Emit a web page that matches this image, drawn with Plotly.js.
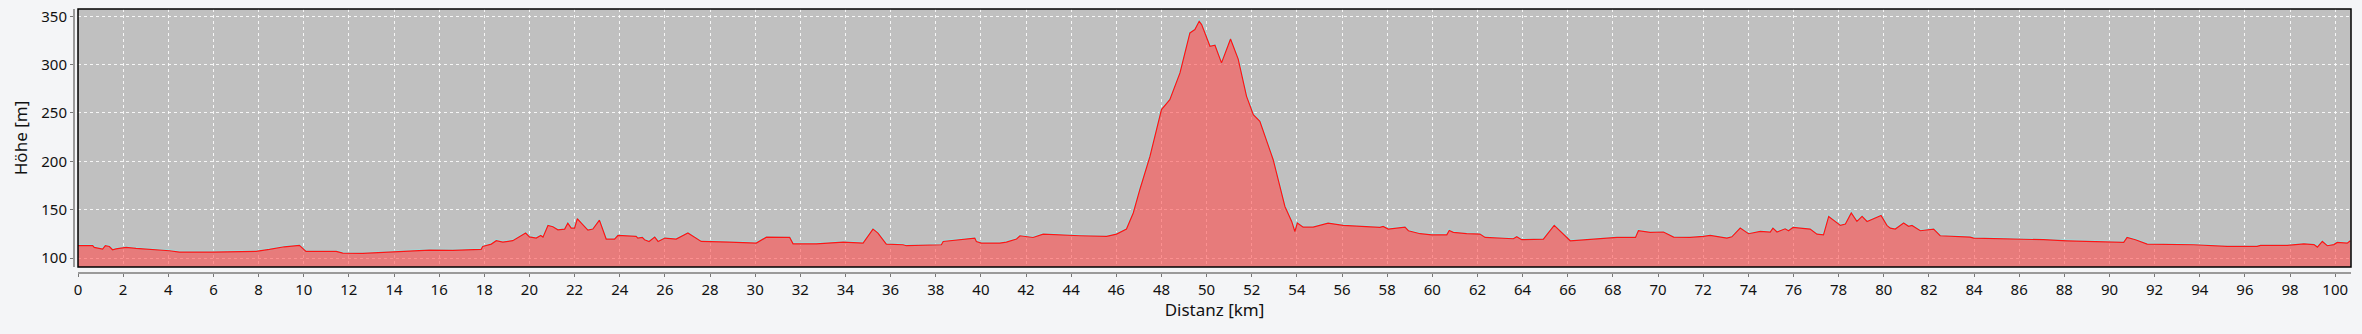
<!DOCTYPE html>
<html>
<head>
<meta charset="utf-8">
<script src="https://cdn.plot.ly/plotly-3.0.1.min.js"></script>
<style>
  html, body { margin: 0; padding: 0; background: #f4f5f7; }
  #chart { width: 2362px; height: 334px; }
</style>
</head>
<body>
<div id="chart"></div>
<script>
// Distance along the route (km)
const distKm = [
  0.0, 0.65, 0.72, 1.09, 1.21, 1.39, 1.53, 1.68, 2.13, 2.57,
  4.05, 4.49, 5.97, 7.0, 7.89, 8.48, 9.14, 9.81, 9.96, 10.1,
  11.44, 11.73, 12.62, 13.65, 15.57, 16.6, 17.86, 17.93, 18.31, 18.53,
  18.82, 19.26, 19.49, 19.83, 20.0, 20.3, 20.5, 20.6, 20.82, 21.04,
  21.26, 21.56, 21.7, 21.85, 22.0, 22.12, 22.3, 22.59, 22.81, 23.1,
  23.4, 23.77, 23.92, 24.44, 24.73, 24.8, 25.0, 25.1, 25.3, 25.55,
  25.7, 26.0, 26.5, 27.02, 27.24, 27.61, 28.87, 30.05, 30.5, 31.53,
  31.68, 32.71, 33.9, 34.78, 35.22, 35.44, 35.81, 36.55, 36.7, 37.59,
  38.25, 38.33, 39.21, 39.36, 39.73, 39.8, 40.02, 40.84, 41.13, 41.58,
  41.73, 42.31, 42.76, 44.38, 45.57, 46.01, 46.45, 46.75, 47.04, 47.49,
  48.0, 48.37, 48.82, 49.26, 49.48, 49.67, 49.78, 50.15, 50.37, 50.66,
  51.06, 51.4, 51.77, 52.07, 52.36, 52.95, 53.47, 53.77, 53.91, 54.02,
  54.28, 54.72, 55.01, 55.38, 56.05, 57.68, 57.82, 58.05, 58.79, 58.94,
  59.46, 59.97, 60.64, 60.75, 60.93, 61.52, 62.11, 62.34, 63.59, 63.74,
  63.96, 64.92, 65.4, 65.89, 66.11, 66.85, 68.18, 69.0, 69.13, 69.65,
  70.24, 70.69, 71.42, 72.01, 72.31, 73.05, 73.27, 73.64, 74.01, 74.53,
  74.97, 75.09, 75.27, 75.63, 75.78, 75.98, 76.74, 77.04, 77.33, 77.56,
  78.08, 78.3, 78.56, 78.81, 79.04, 79.26, 79.63, 79.88, 80.14, 80.29,
  80.51, 80.88, 81.1, 81.25, 81.62, 82.21, 82.5, 83.83, 83.98, 85.61,
  87.08, 88.12, 90.63, 90.78, 91.15, 91.67, 92.11, 92.4, 93.14, 93.73,
  95.21, 96.54, 96.69, 97.87, 98.61, 99.06, 99.21, 99.43, 99.65, 99.94,
  100.09, 100.53, 100.67
];

// Elevation (m)
const elevM = [
  113, 113, 111, 109.3, 112.8, 112, 108.6, 109.5, 111, 110,
  107.6, 106.2, 106.2, 106.9, 106.9, 109, 111.7, 113.1, 110.3, 106.9,
  106.9, 105.2, 104.8, 106.2, 108.3, 108, 109, 112, 114.5, 118,
  116.6, 118, 121.4, 125.9, 122, 120.7, 123.4, 121.7, 133.8, 132.4,
  129.3, 130, 136.2, 131, 131, 140.7, 136.2, 129, 130, 139.3,
  119.7, 119.7, 123.4, 123.1, 122.4, 120.7, 121.4, 119, 117.2, 121.7,
  117.2, 120.7, 119.7, 125.9, 122.4, 117.2, 116.6, 115.5, 121.7, 121.4,
  114.8, 114.8, 116.6, 115.5, 130, 125.9, 114.5, 113.8, 112.8, 113.8,
  113.8, 117.2, 119, 120, 120.7, 117.2, 115.5, 115.5, 116.6, 119.7,
  123.1, 121.3, 124.8, 123.1, 122.4, 124.8, 130, 146.6, 170.7, 205.1,
  253.5, 263.8, 291.4, 332.8, 336.2, 344.8, 341.4, 319, 320, 301.8,
  326.5, 305.7, 267.2, 248.3, 241.4, 201.7, 153.4, 137.9, 127.5, 136.2,
  132, 132, 133.8, 136.2, 133.8, 131.7, 132.8, 130, 132, 128.3,
  125.2, 124.1, 124.1, 128.6, 126.6, 125.2, 124.8, 121.4, 120, 122.1,
  119, 119.7, 133.8, 122.4, 117.9, 119, 121.4, 121.4, 128.3, 126.6,
  127, 121.7, 121.4, 122.4, 123.4, 120.7, 122, 131, 125.2, 127.6,
  126.9, 131, 127, 130.3, 128.3, 131.7, 130, 124.8, 124.1, 143.1,
  133.8, 135.2, 146.6, 137.9, 143.1, 137.9, 141.4, 144.1, 133.8, 131,
  130, 136.2, 132.8, 133.8, 128.3, 130, 123.1, 121.7, 120.7, 120,
  119, 117.9, 116.2, 121.4, 119, 114.5, 114.5, 113.8, 113.8, 113.8,
  112.1, 112.1, 113.1, 113.1, 114.8, 114, 111.4, 117.2, 112.8, 114,
  116.2, 115.5, 117.9
];

const yTickVals = [100, 150, 200, 250, 300, 350];
const xTitle = 'Distanz [km]';
const yTitle = 'Höhe [m]';

const FONT = 'Noto Sans, Open Sans, DejaVu Sans, sans-serif';

const traces = [
  {
    x: distKm, y: elevM, type: 'scatter', mode: 'lines',
    line: { color: 'rgb(160,215,215)', width: 3 },
    hoverinfo: 'skip', showlegend: false
  },
  {
    x: distKm, y: elevM, type: 'scatter', mode: 'lines',
    fill: 'tozeroy', fillcolor: 'rgba(255,80,80,0.62)',
    line: { color: 'rgb(255,20,20)', width: 1.2 },
    showlegend: false
  }
];

const layout = {
  width: 2362, height: 334,
  paper_bgcolor: '#f4f5f7',
  plot_bgcolor: '#c0c0c0',
  margin: { l: 73, r: 11, t: 9, b: 62 },
  font: { family: FONT, size: 15, color: '#1a1a1a' },
  showlegend: false,
  xaxis: {
    range: [0, 100.7],
    domain: [0.0022, 1],
    anchor: 'free', position: 0,
    tick0: 0, dtick: 2,
    showgrid: true, gridcolor: 'rgba(255,255,255,0.85)', gridwidth: 1, griddash: '3px,3px',
    zeroline: false,
    showline: true, linecolor: '#9a9a9a', linewidth: 1.5,
    ticks: 'outside', ticklen: 3, tickcolor: '#777', tickwidth: 1,
    tickfont: { family: FONT, size: 15, color: '#111' },
    title: { text: xTitle, font: { family: FONT, size: 17, color: '#111' }, standoff: 6 }
  },
  yaxis: {
    range: [90.8, 357.5],
    domain: [0.019, 1],
    anchor: 'free', position: 0,
    tickvals: yTickVals,
    showgrid: true, gridcolor: 'rgba(255,255,255,0.85)', gridwidth: 1, griddash: '3px,3px',
    zeroline: false,
    showline: true, linecolor: '#9a9a9a', linewidth: 1.5,
    ticks: 'outside', ticklen: 3, tickcolor: '#777', tickwidth: 1,
    tickfont: { family: FONT, size: 15, color: '#111' },
    title: { text: yTitle, font: { family: FONT, size: 17, color: '#111' }, standoff: 8 }
  },
  shapes: [
    {
      type: 'rect', xref: 'x domain', yref: 'y domain',
      x0: 0, x1: 1, y0: 0, y1: 1,
      line: { color: '#000', width: 1.5 }, fillcolor: 'rgba(0,0,0,0)', layer: 'above'
    }
  ]
};

Plotly.newPlot('chart', traces, layout, { displayModeBar: false, staticPlot: true });
</script>
</body>
</html>
